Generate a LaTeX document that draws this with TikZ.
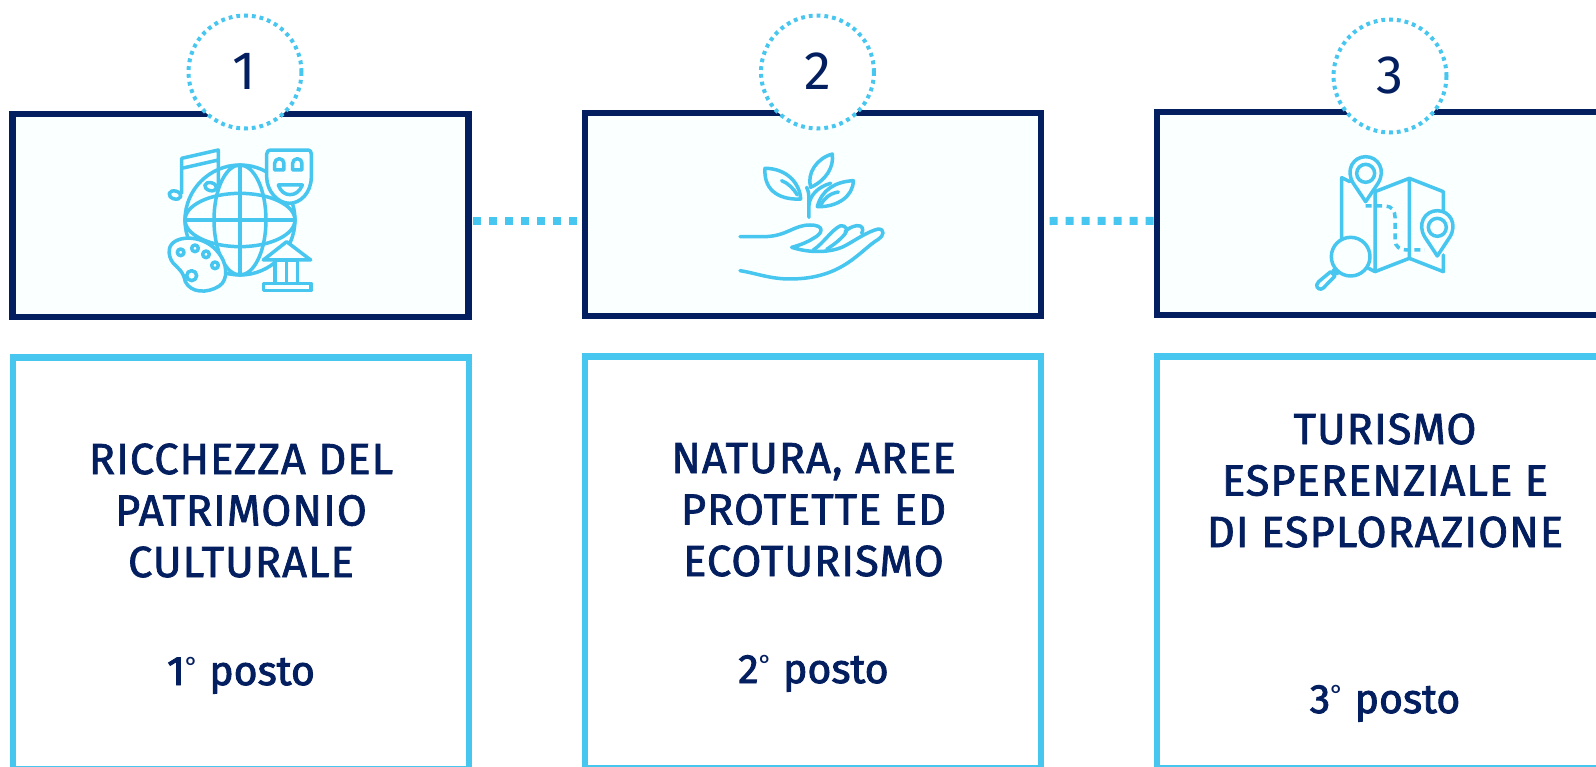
\documentclass[tikz,border=0pt]{standalone}
\usepackage{fontspec}
\setmainfont{Fira Sans}[FakeBold=1.6,LetterSpace=2.2]
\newfontfamily\rankfont{Fira Sans}[FakeBold=2.2]
\newfontfamily\numfont{Fira Sans}
\definecolor{navy}{HTML}{041F5F}
\definecolor{sky}{HTML}{47C6F0}
\definecolor{tint}{HTML}{FAFFFF}
\newcommand{\ringdeg}{\raisebox{10pt}{\fontsize{26}{26}\selectfont\numfont °}}
\tikzset{
  topbox/.style={draw=navy,line width=6.3pt,fill=tint,minimum width=456pt,minimum height=203pt,inner sep=0pt,outer sep=0pt,anchor=north west},
  lowbox/.style={draw=sky,line width=6.3pt,fill=white,minimum width=456pt,minimum height=412pt,inner sep=0pt,outer sep=0pt,anchor=north west},
  badge/.style={circle,draw=sky,line width=4pt,dash pattern=on 3.8pt off 4pt,fill=white,minimum size=113pt,inner sep=0pt,text=navy,font=\fontsize{54}{54}\selectfont\numfont},
  linker/.style={draw=sky,line width=8pt,dash pattern=on 8pt off 8pt},
  title/.style={text=navy,align=center,anchor=base,inner sep=0pt,font=\fontsize{43.5}{51.5}\selectfont},
  rank/.style={text=navy,anchor=base,inner sep=0pt,font=\fontsize{41}{41}\selectfont\rankfont},
  ico/.style={draw=sky,line width=3.5pt,line cap=round,line join=round},
}
\begin{document}
\begin{tikzpicture}[x=1pt,y=-1pt]
\clip (0,0) rectangle (1596,766);
\fill[white] (0,0) rectangle (1596,766);
\node[topbox] (t1) at (12.5,114) {};
\node[topbox] (t2) at (585,113) {};
\node[topbox] (t3) at (1157,112.3) {};
\node[lowbox] (l1) at (13,357.5) {};
\node[lowbox] (l2) at (585,356.5) {};
\node[lowbox] (l3) at (1157,356.5) {};
\draw[linker] ([shift={(4.5,5.5)}]t1.east) -- ([shift={(-6.5,6.5)}]t2.west);
\draw[linker] ([shift={(8.5,6.5)}]t2.east) -- ([shift={(-3,7)}]t3.west);
\node[badge] (c1) at (245,72) {\raisebox{1pt}{\hspace{-2pt}1}};
\node[badge] (c2) at (817.5,72) {\raisebox{1pt}{2}};
\node[badge] (c3) at (1390,76) {\raisebox{1pt}{3}};
\node[title] (a1) at (241,577) {RICCHEZZA DEL\\PATRIMONIO\\CULTURALE};
\node[title] (a2) at (813.5,576) {NATURA, AREE\\PROTETTE ED\\ECOTURISMO};
\node[title] (a3) at (1385,547) {TURISMO\\ESPERENZIALE E\\DI ESPLORAZIONE};
\node[rank] (r1) at (241,685) {1\ringdeg{} posto};
\node[rank] (r2) at (813.5,683) {2\ringdeg{} posto};
\node[rank] (r3) at (1385,713) {3\ringdeg{} posto};
% icon 1
\begin{scope}[shift={(150,130)},x=0.3333pt,y=-0.3333pt,ico]
\draw (270,270) circle [radius=165];
\draw (270,270) ellipse [x radius=78,y radius=165];
\draw (270,270) ellipse [x radius=165,y radius=80];
\draw (270,105) -- (270,435) (105,270) -- (435,270);
\draw (95,190) -- (95,85) -- (205,60) -- (205,165) (95,115) -- (205,90);
\draw[fill=tint,rotate around={-15:(75,195)}] (75,195) ellipse [x radius=18,y radius=12];
\draw[fill=tint,rotate around={-15:(182,170)}] (182,170) ellipse [x radius=18,y radius=12];
\draw[fill=tint] (365,60) -- (470,60) .. controls (482,60) and (484,65) .. (484,72) -- (484,140) .. controls (484,190) and (450,220) .. (418,220) .. controls (385,220) and (350,185) .. (350,140) -- (350,72) .. controls (350,65) and (355,60) .. (365,60) -- cycle;
\draw (374,120) -- (374,100) arc [start angle=180,end angle=360,radius=14] -- (402,120) -- cycle;
\draw (428,120) -- (428,100) arc [start angle=180,end angle=360,radius=14] -- (456,120) -- cycle;
\draw (385,165) -- (457,165) .. controls (450,185) and (435,194) .. (420,194) .. controls (405,194) and (392,185) .. (385,165) -- cycle;
\draw[fill=tint] (58,358) .. controls (65,315) and (155,310) .. (200,362) .. controls (235,400) and (235,450) .. (208,468) .. controls (170,492) and (122,488) .. (106,455) .. controls (100,425) and (85,415) .. (70,400) .. controls (60,388) and (56,372) .. (58,358) -- cycle;
\draw (92,367) circle [radius=10] (135,355) circle [radius=10] (168,373) circle [radius=10] (195,406) circle [radius=10] (125,437) circle [radius=15];
\draw[fill=tint] (340,390) -- (410,335) -- (482,390) -- cycle;
\draw[fill=tint] (375,390) rectangle (443,460);
\draw (409,390) -- (409,460);
\draw[fill=tint] (340,460) rectangle (483,482);
\end{scope}
% icon 2
\begin{scope}[shift={(710,130)},x=0.3333pt,y=-0.3333pt,ico]
\draw (297,262) -- (297,205) .. controls (297,195) and (296,185) .. (290,172);
\draw (297,225) .. controls (300,195) and (325,170) .. (362,160);
\draw (165,115) .. controls (230,115) and (270,160) .. (272,207) .. controls (220,210) and (160,190) .. (165,115) -- cycle;
\draw (215,152) .. controls (235,160) and (250,175) .. (262,195);
\draw (367,72) .. controls (372,110) and (350,150) .. (302,172) .. controls (290,130) and (320,85) .. (367,72) -- cycle;
\draw (430,152) .. controls (430,200) and (380,232) .. (322,230) .. controls (335,180) and (375,155) .. (430,152) -- cycle;
\draw (385,186) .. controls (360,190) and (342,205) .. (332,225);
\draw (90,320) -- (160,320) .. controls (230,320) and (250,285) .. (300,285) .. controls (345,285) and (340,310) .. (310,325) .. controls (290,338) and (270,345) .. (245,352) .. controls (300,370) and (360,368) .. (400,350) .. controls (430,335) and (470,305) .. (505,297) .. controls (525,297) and (522,318) .. (505,328) .. controls (450,360) and (400,447) .. (240,447) .. controls (180,447) and (140,430) .. (90,422);
\draw (310,360) .. controls (340,340) and (365,300) .. (390,288) .. controls (410,285) and (415,300) .. (405,312) .. controls (390,330) and (370,345) .. (350,358);
\draw (405,305) .. controls (415,295) and (425,290) .. (440,287) .. controls (458,285) and (462,298) .. (455,310);
\end{scope}
% icon 3
\begin{scope}[shift={(1270,130)},x=0.3333pt,y=-0.3333pt,ico]
\draw (215,325) -- (215,143) -- (240,155);
\draw (315,185) -- (315,425) -- (290,412);
\draw (315,185) -- (418,145) -- (418,385) -- (315,425);
\draw (418,145) -- (520,185) -- (520,245);
\draw (520,375) -- (520,425) -- (418,385);
\draw[fill=tint] (287,215) -- (250,160) .. controls (225,120) and (250,80) .. (287,80) .. controls (324,80) and (349,120) .. (324,160) -- cycle;
\draw (287,130) circle [radius=27];
\draw[line cap=butt,dash pattern=on 6pt off 4.5pt] (287,228) -- (345,228) .. controls (365,228) and (375,242) .. (375,260) -- (375,330) .. controls (375,350) and (390,360) .. (410,360) -- (465,360);
\draw[fill=tint] (502,378) -- (465,322) .. controls (440,282) and (465,242) .. (502,242) .. controls (539,242) and (564,282) .. (539,322) -- cycle;
\draw (502,292) circle [radius=27];
\draw[fill=tint] (242,380) circle [radius=58];
\draw (190,420) -- (202,432);
\draw[fill=tint] (182,425) -- (195,438) -- (160,474) .. controls (150,482) and (140,475) .. (140,465) .. controls (140,460) and (142,458) .. (146,455) -- cycle;
\end{scope}
\end{tikzpicture}
\end{document}
